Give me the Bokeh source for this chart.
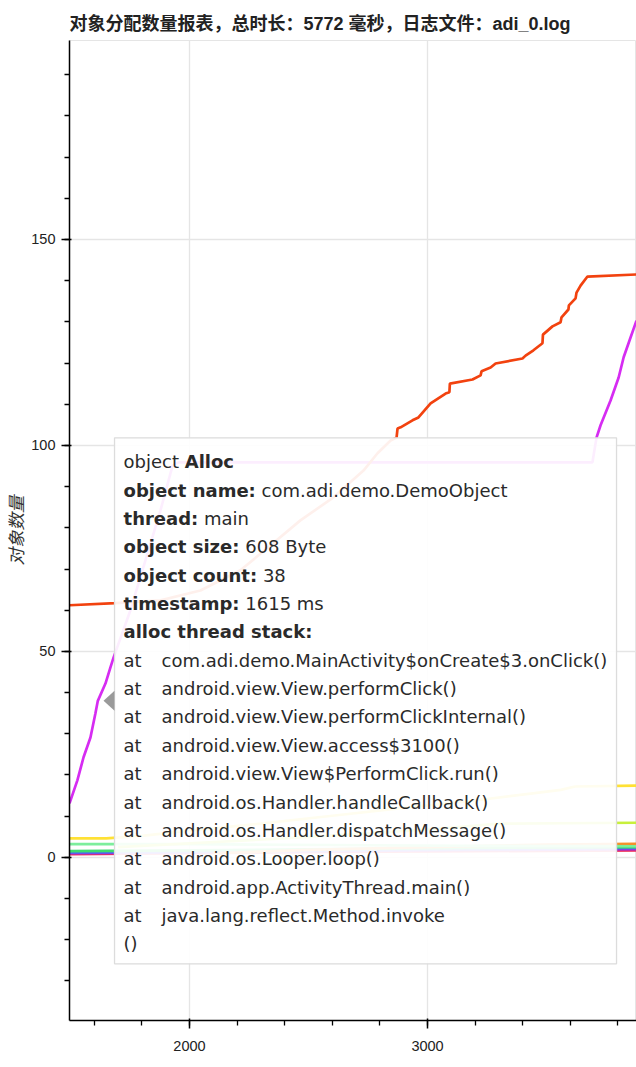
from bokeh.plotting import figure
from bokeh.models import Range1d, SingleIntervalTicker, ColumnDataSource
from bokeh.embed import file_html
from bokeh.resources import INLINE
from bokeh.core.properties import value

# ---------------- data ----------------
TITLE = "对象分配数量报表，总时长：5772 毫秒，日志文件：adi_0.log"
Y_LABEL = "对象数量"

orange_x = [1496, 1689, 1878, 2046, 2214, 2340, 2466, 2605, 2731, 2790, 2845, 2870, 2874, 2887,
            2937, 2962, 3013, 3076, 3092, 3094, 3189, 3223, 3227, 3265, 3286, 3399, 3412, 3445,
            3483, 3485, 3525, 3559, 3563, 3592, 3594, 3622, 3626, 3643, 3672, 3878]
orange_y = [61.2, 61.7, 62.4, 64.8, 69.7, 75.7, 81.8, 87.4, 93.9, 98.1, 101.2, 101.9, 104.1, 104.4,
            106.1, 106.8, 110.2, 112.6, 112.9, 115.0, 116.0, 117.0, 118.0, 118.9, 119.9, 121.1, 121.8, 123.1,
            124.8, 126.9, 128.9, 129.9, 131.1, 133.0, 134.0, 135.7, 137.1, 138.8, 141.0, 141.5]

magenta_x = [1496, 1529, 1555, 1584, 1605, 1615, 1647, 1668, 1681, 1752, 1815, 1878, 1929, 1954,
             3693, 3710, 3727, 3769, 3803, 3824, 3853, 3878]
magenta_y = [13.1, 18.7, 24.3, 29.1, 35.0, 38.0, 42.2, 46.1, 48.5, 60.0, 72.1, 84.2, 95.1, 95.9,
             95.9, 101.9, 104.9, 110.9, 116.5, 121.4, 126.2, 130.3]

yellow_x = [1496, 1650, 1800, 2000, 2300, 2600, 2900, 3200, 3450, 3560, 3620, 3878]
yellow_y = [4.6, 4.6, 5.2, 6.5, 8.2, 10.1, 12.0, 13.8, 15.6, 16.4, 17.2, 17.4]

lime_x = [1700, 2000, 2400, 2800, 3100, 3300, 3878]
lime_y = [2.5, 3.4, 4.6, 6.0, 7.2, 8.2, 8.4]

mint_x = [1496, 2000, 2600, 3200, 3878]
mint_y = [3.2, 3.2, 3.0, 2.8, 2.7]

amber_x = [2100, 2500, 3000, 3500, 3878]
amber_y = [1.0, 1.8, 2.5, 3.1, 3.3]

green_x = [1496, 2000, 2600, 3200, 3878]
green_y = [1.5, 1.7, 2.0, 2.3, 2.5]

blue_x = [1496, 2000, 2600, 3200, 3878]
blue_y = [1.2, 1.4, 1.7, 2.0, 2.3]

violet_x = [1496, 2000, 2600, 3200, 3878]
violet_y = [1.0, 1.2, 1.5, 1.8, 2.0]

red_x = [1496, 2000, 2600, 3200, 3878]
red_y = [0.8, 1.0, 1.3, 1.5, 1.7]

X_START, X_END = 1496, 3878
Y_START, Y_END = -39.6, 198.3

# hovered point and tooltip content
HOVER_X = 1615
HOVER_Y = 38
tip_head = [("object ", "Alloc")]
tip_fields = [("object name:", "com.adi.demo.DemoObject"),
              ("thread:", "main"),
              ("object size:", "608 Byte"),
              ("object count:", "38"),
              ("timestamp:", "1615 ms"),
              ("alloc thread stack:", "")]
tip_stack = ["com.adi.demo.MainActivity$onCreate$3.onClick()",
             "android.view.View.performClick()",
             "android.view.View.performClickInternal()",
             "android.view.View.access$3100()",
             "android.view.View$PerformClick.run()",
             "android.os.Handler.handleCallback()",
             "android.os.Handler.dispatchMessage()",
             "android.os.Looper.loop()",
             "android.app.ActivityThread.main()",
             "java.lang.reflect.Method.invoke"]
tip_tail = "()"

# ---------------- figure ----------------
FW, FH = 567, 980
p = figure(width=636, height=1067, x_range=Range1d(X_START, X_END), y_range=Range1d(Y_START, Y_END),
           output_backend="svg", toolbar_location=None, title=TITLE,
           min_border_left=69, min_border_right=0, min_border_top=40, min_border_bottom=47)
p.background_fill_color = "white"
p.border_fill_color = "white"
p.outline_line_color = "#e5e5e5"

p.title.text_font = "'Liberation Sans', 'Noto Sans CJK SC'"
p.title.text_font_size = "18px"
p.title.text_font_style = "bold"
p.title.text_color = "#222222"
p.title.standoff = 13

p.xaxis.ticker = SingleIntervalTicker(interval=1000, num_minor_ticks=5)
p.yaxis.ticker = SingleIntervalTicker(interval=50, num_minor_ticks=5)
for ax in (p.xaxis, p.yaxis):
    ax.major_label_text_font = "Liberation Sans"
    ax.major_label_text_font_size = "14.5px"
    ax.major_label_text_color = "#222222"
    ax.major_tick_out = 8
    ax.major_tick_in = 2
    ax.minor_tick_out = 5
    ax.minor_tick_in = 0
    ax.axis_line_width = 1.5
    ax.major_tick_line_width = 1.5
    ax.minor_tick_line_width = 1.3
    ax.axis_line_color = "black"
    ax.major_tick_line_color = "black"
    ax.minor_tick_line_color = "black"
p.xaxis.major_label_standoff = 12
p.yaxis.major_label_standoff = 6
p.yaxis.axis_label = Y_LABEL
p.yaxis.axis_label_text_font = "Noto Sans CJK SC"
p.yaxis.axis_label_text_font_size = "17.5px"
p.yaxis.axis_label_text_font_style = "italic"
p.yaxis.axis_label_text_color = "#333333"
p.yaxis.axis_label_standoff = 0
p.grid.grid_line_color = "#e5e5e5"
p.grid.grid_line_width = 1.35

series = [
    (red_x, red_y, "#ee2a55"),
    (violet_x, violet_y, "#9b30e0"),
    (blue_x, blue_y, "#4a6cf0"),
    (green_x, green_y, "#3ddc6e"),
    (amber_x, amber_y, "#f5902a"),
    (mint_x, mint_y, "#7cee9c"),
    (lime_x, lime_y, "#c8f03c"),
    (yellow_x, yellow_y, "#ffe135"),
    (magenta_x, magenta_y, "#d62cf2"),
    (orange_x, orange_y, "#f2420f"),
]
for xs, ys, col in series:
    p.line(xs, ys, line_color=col, line_width=2.7)

# ---------------- tooltip (static) ----------------
sx = FW / (X_END - X_START)
sy = FH / (Y_END - Y_START)

def dx(px):
    return HOVER_X + px / sx

def dy(py):
    return HOVER_Y - py / sy

NORMAL_W = {'o': 0.612, 'b': 0.635, 'j': 0.278, 'e': 0.615, 'c': 0.550, 't': 0.392, ' ': 0.318}
BOLD_W = {'A': 0.774, 'a': 0.675, 'b': 0.716, 'c': 0.593, 'd': 0.716, 'e': 0.678, 'h': 0.712,
          'i': 0.343, 'j': 0.343, 'k': 0.665, 'l': 0.343, 'm': 1.042, 'n': 0.712, 'o': 0.687,
          'p': 0.716, 'r': 0.493, 's': 0.595, 't': 0.478, 'u': 0.712, 'z': 0.582, ':': 0.400,
          ' ': 0.348}
FS = 18
SPACE = 0.318 * FS

def width(s, table):
    return sum(table.get(c, 0.6) for c in s) * FS

p.rect(x=[dx(267.7)], y=[dy(0)], width=502, height=526, width_units="screen", height_units="screen",
       fill_color="white", fill_alpha=0.92, line_color="#dcdcdc", line_width=1.3)
p.patch([dx(5.7), dx(16.7), dx(16.7)], [dy(0), dy(-10), dy(10)], fill_color="#9a9a9a", line_color=None)

TX = 25.7
TY0 = -239.0
LH = 28.35
bold = dict(x=[], y=[], text=[], xo=[], yo=[])
norm = dict(x=[], y=[], text=[], xo=[], yo=[])

def put(d, t, xo, yo):
    d["x"].append(HOVER_X); d["y"].append(HOVER_Y); d["text"].append(t)
    d["xo"].append(xo); d["yo"].append(yo)

row = 0
for a, b in tip_head:
    put(norm, a.strip(), TX, TY0)
    put(bold, b, TX + width(a, NORMAL_W), TY0)
    row += 1
for a, b in tip_fields:
    yo = TY0 + LH * row
    put(bold, a, TX, yo)
    if b:
        put(norm, b, TX + width(a, BOLD_W) + SPACE, yo)
    row += 1
for m in tip_stack:
    yo = TY0 + LH * row
    put(norm, "at", TX, yo)
    put(norm, m, TX + 38, yo)
    row += 1
put(norm, tip_tail, TX, TY0 + LH * row)

for d, style in ((norm, "normal"), (bold, "bold")):
    p.text(x="x", y="y", text="text", x_offset="xo", y_offset="yo", source=ColumnDataSource(d),
           text_font=value("DejaVu Sans"), text_font_size="18px", text_font_style=style,
           text_baseline="alphabetic", text_align="left", text_color="#2a2a2a")

open("out.html", "w").write(file_html(p, INLINE))
